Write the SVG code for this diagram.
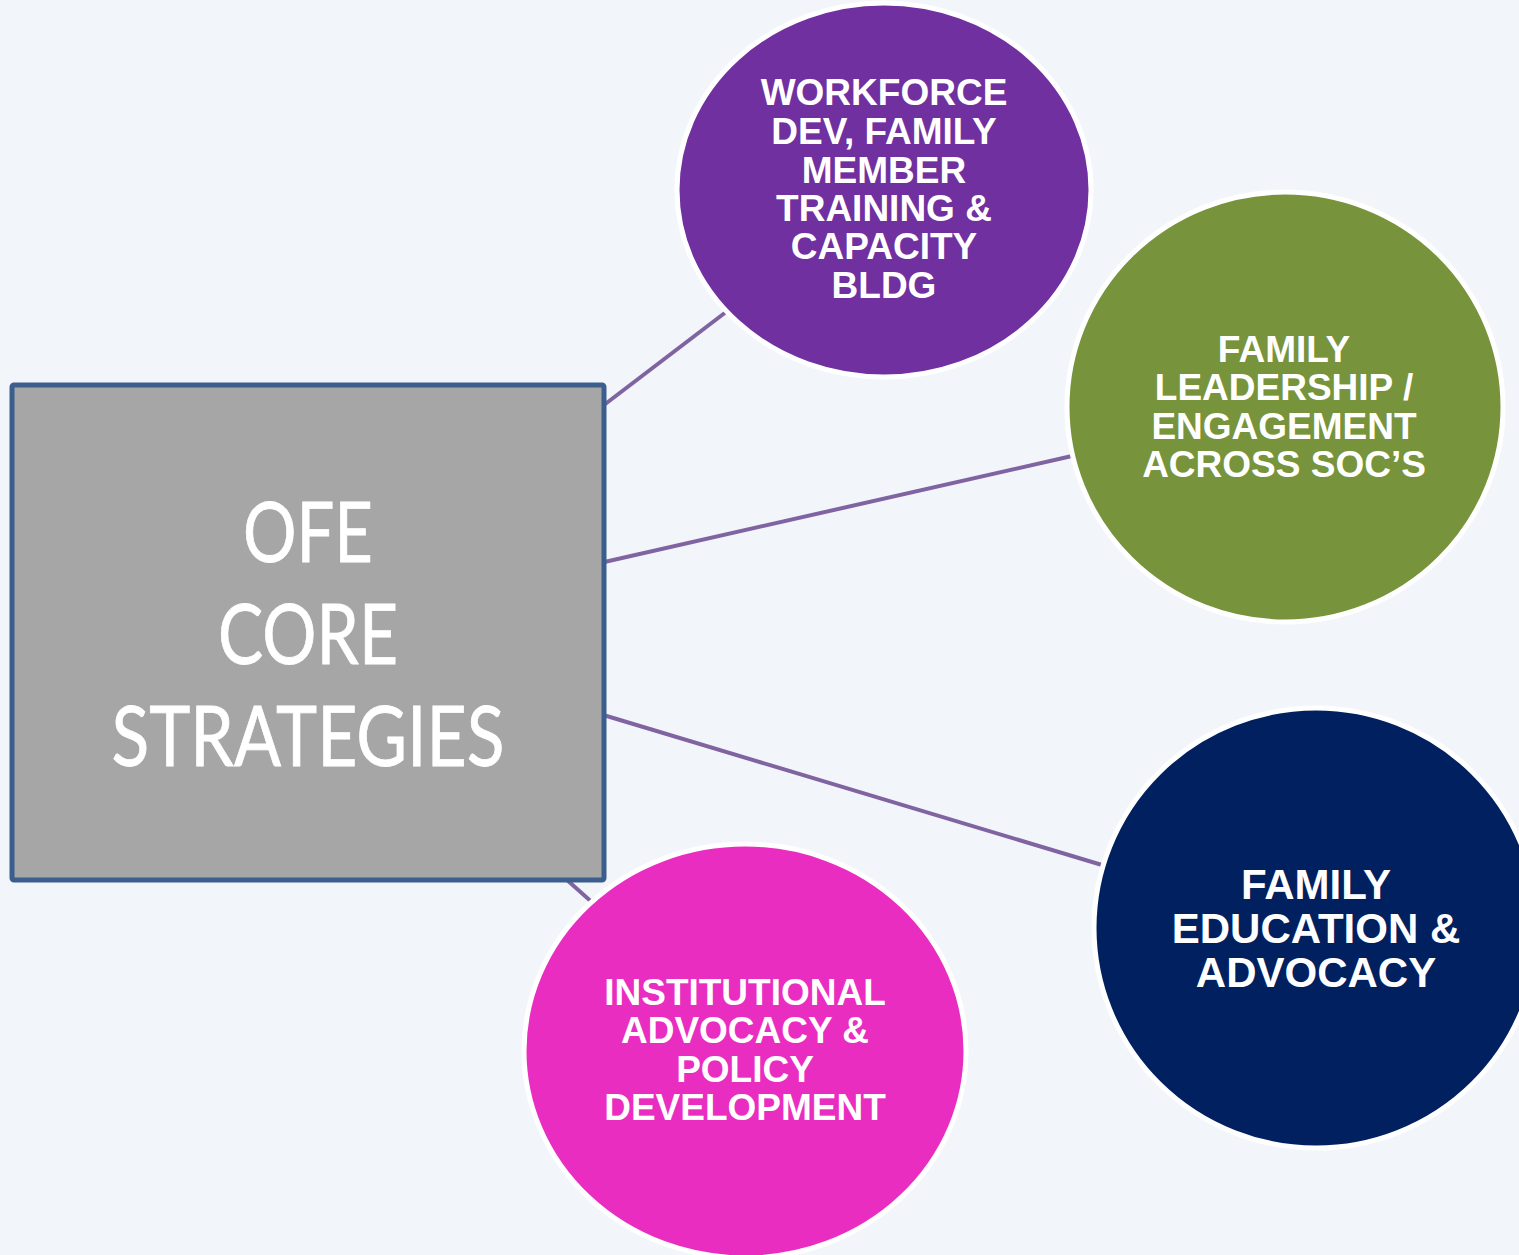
<svg xmlns="http://www.w3.org/2000/svg" width="1519" height="1255" viewBox="0 0 1519 1255">
  <style>
    .link { stroke: #8064a2; stroke-width: 4; fill: none; }
    .bubble { stroke: #ffffff; stroke-width: 5; }
    .btxt { font-family: "Liberation Sans", Arial, sans-serif; font-weight: bold; fill: #ffffff; text-anchor: middle; }
    .core { font-family: Lato, "Open Sans", sans-serif; fill: #ffffff; stroke: #ffffff; stroke-width: 0.8; text-anchor: middle; font-size: 84px; }
  </style>
  <rect x="0" y="0" width="1519" height="1255" fill="#f2f6fa"/>

  <!-- connectors from the core box to each strategy -->
  <g id="connectors">
    <line class="link" x1="600" y1="408" x2="726" y2="312"/>
    <line class="link" x1="600" y1="563" x2="1072" y2="456"/>
    <line class="link" x1="600" y1="714" x2="1102" y2="865"/>
    <line class="link" x1="540" y1="856" x2="594" y2="904"/>
  </g>

  <!-- central box -->
  <g id="core">
    <rect x="12" y="385" width="592" height="495" fill="#a6a6a6" stroke="#3b5e8c" stroke-width="5" rx="2"/>
    <text class="core" x="308" y="562" textLength="130" lengthAdjust="spacingAndGlyphs">OFE</text>
    <text class="core" x="308" y="664" textLength="180" lengthAdjust="spacingAndGlyphs">CORE</text>
    <text class="core" x="308" y="766" textLength="393" lengthAdjust="spacingAndGlyphs">STRATEGIES</text>
  </g>

  <g id="workforce">
    <ellipse class="bubble" cx="884" cy="190" rx="207" ry="187" fill="#7030a0"/>
    <g class="btxt" font-size="37">
      <text x="884" y="105">WORKFORCE</text>
      <text x="884" y="144">DEV, FAMILY</text>
      <text x="884" y="183">MEMBER</text>
      <text x="884" y="221">TRAINING &amp;</text>
      <text x="884" y="259">CAPACITY</text>
      <text x="884" y="298">BLDG</text>
    </g>
  </g>

  <g id="leadership">
    <ellipse class="bubble" cx="1285" cy="407" rx="218" ry="215" fill="#77933c"/>
    <g class="btxt" font-size="37">
      <text x="1284" y="362">FAMILY</text>
      <text x="1284" y="400">LEADERSHIP /</text>
      <text x="1284" y="439">ENGAGEMENT</text>
      <text x="1284" y="477">ACROSS SOC’S</text>
    </g>
  </g>

  <g id="education">
    <ellipse class="bubble" cx="1316" cy="928" rx="222" ry="220" fill="#002060"/>
    <g class="btxt" font-size="42">
      <text x="1316" y="899">FAMILY</text>
      <text x="1316" y="943">EDUCATION &amp;</text>
      <text x="1316" y="987">ADVOCACY</text>
    </g>
  </g>

  <g id="policy">
    <ellipse class="bubble" cx="745" cy="1051" rx="221" ry="207" fill="#e92dc1"/>
    <g class="btxt" font-size="37">
      <text x="745" y="1005">INSTITUTIONAL</text>
      <text x="745" y="1043">ADVOCACY &amp;</text>
      <text x="745" y="1082">POLICY</text>
      <text x="745" y="1120">DEVELOPMENT</text>
    </g>
  </g>
</svg>
